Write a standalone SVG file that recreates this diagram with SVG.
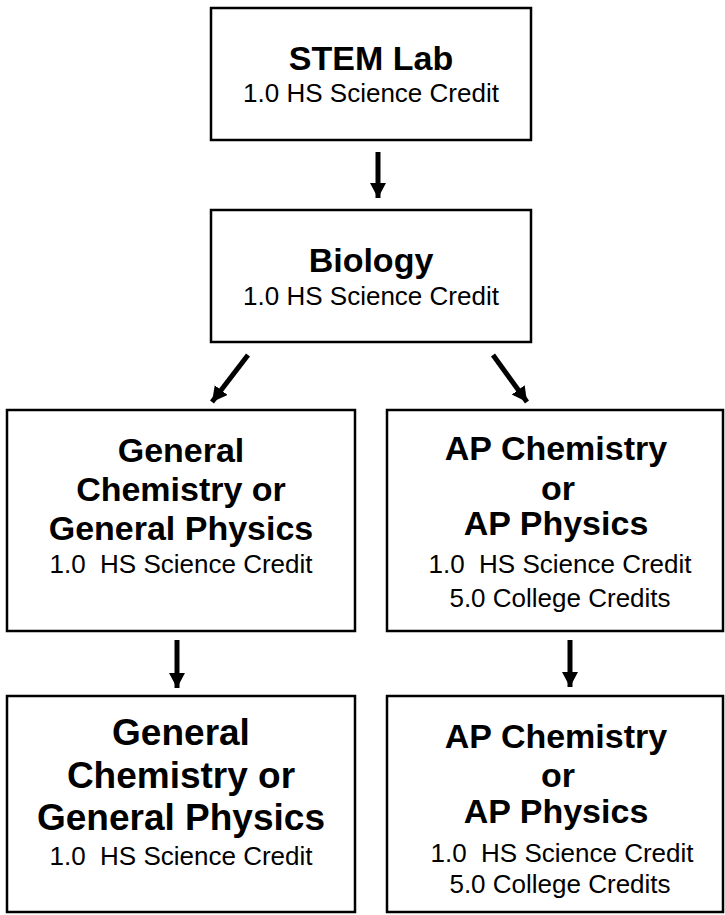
<svg xmlns="http://www.w3.org/2000/svg" width="725" height="915" viewBox="0 0 725 915">
<style>
.box{fill:#fff;stroke:#000;stroke-width:2.5}
text{font-family:"Liberation Sans",Arial,sans-serif;fill:#000;text-anchor:middle}
.b{font-weight:bold;font-size:34px}
.bl{font-weight:bold;font-size:37px}
.s{font-size:26px}
.c{stroke:#000;stroke-width:5;fill:none}
</style>
<defs>
<marker id="ah" markerUnits="userSpaceOnUse" markerWidth="18" markerHeight="18" refX="15" refY="8" orient="auto">
<path d="M0,0 L15,8 L0,16 Z" fill="#000"/>
</marker>
</defs>
<rect width="725" height="915" fill="#fff"/>
<g id="stem">
<rect class="box" x="211" y="8" width="320" height="132"/>
<text class="b" x="371" y="70">STEM Lab</text>
<text class="s" x="371" y="102">1.0 HS Science Credit</text>
</g>
<g id="biology">
<rect class="box" x="211" y="210" width="320" height="132"/>
<text class="b" x="371" y="272">Biology</text>
<text class="s" x="371" y="305">1.0 HS Science Credit</text>
</g>
<g id="gen1">
<rect class="box" x="7" y="410" width="348" height="221"/>
<text class="b" x="181" y="462">General</text>
<text class="b" x="181" y="501">Chemistry or</text>
<text class="b" x="181" y="540">General Physics</text>
<text class="s" x="181" y="573" xml:space="preserve">1.0  HS Science Credit</text>
</g>
<g id="ap1">
<rect class="box" x="387" y="410" width="336" height="221"/>
<text class="b" x="556" y="460">AP Chemistry</text>
<text class="b" x="558" y="500">or</text>
<text class="b" x="556" y="535">AP Physics</text>
<text class="s" x="560" y="573" xml:space="preserve">1.0  HS Science Credit</text>
<text class="s" x="560" y="607">5.0 College Credits</text>
</g>
<g id="gen2">
<rect class="box" x="7" y="696" width="348" height="216"/>
<text class="bl" x="181" y="745">General</text>
<text class="bl" x="181" y="788">Chemistry or</text>
<text class="bl" x="181" y="830">General Physics</text>
<text class="s" x="181" y="865" xml:space="preserve">1.0  HS Science Credit</text>
</g>
<g id="ap2">
<rect class="box" x="387" y="696" width="336" height="216"/>
<text class="b" x="556" y="748">AP Chemistry</text>
<text class="b" x="558" y="787">or</text>
<text class="b" x="556" y="823">AP Physics</text>
<text class="s" x="562" y="862" xml:space="preserve">1.0  HS Science Credit</text>
<text class="s" x="560" y="893">5.0 College Credits</text>
</g>
<g id="connectors">
<line class="c" x1="378" y1="152" x2="378" y2="198" marker-end="url(#ah)"/>
<line class="c" x1="248" y1="355" x2="212" y2="402" marker-end="url(#ah)"/>
<line class="c" x1="493" y1="355" x2="527" y2="402" marker-end="url(#ah)"/>
<line class="c" x1="177" y1="640" x2="177" y2="688" marker-end="url(#ah)"/>
<line class="c" x1="570" y1="640" x2="570" y2="687" marker-end="url(#ah)"/>
</g>
</svg>
